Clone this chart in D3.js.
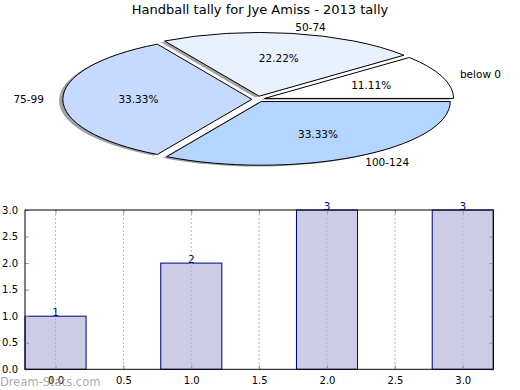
<!DOCTYPE html>
<html>
<head>
<meta charset="utf-8">
<script src="https://cdn.jsdelivr.net/npm/d3@7"></script>
<style>
  html, body { margin: 0; padding: 0; background: #fff; }
  svg { display: block; font-family: "DejaVu Sans", sans-serif; }
</style>
</head>
<body>
<svg id="chart" width="520" height="390"></svg>
<script>
// ---- data ----
const chartTitle = "Handball tally for Jye Amiss - 2013 tally";
const pieLabels = ["below 0", "50-74", "75-99", "100-124"];
const pieValues = [1, 2, 3, 3];
const pieExplode = [0.04, 0.05, 0.03, 0.04];
const pieColors = ["#ffffff", "#e9f1ff", "#c6d9fe", "#b4d5ff"];

const barCategories = [0, 1, 2, 3];
const barValues = [1, 2, 3, 3];
const xTickValues = [0, 0.5, 1, 1.5, 2, 2.5, 3];
const yTickValues = [0, 0.5, 1, 1.5, 2, 2.5, 3];
const watermark = "Dream-Stats.com";

// ---- setup ----
const svg = d3.select("#chart");
const fmt1 = d3.format(".1f");

svg.append("text")
  .attr("x", 260).attr("y", 14)
  .attr("text-anchor", "middle")
  .attr("font-size", 13)
  .text(chartTitle);

// ---- pie (ellipse because axes are stretched) ----
const pcx = 257.5, pcy = 99.3, prx = 189, pry = 63.7;
const px = d3.scaleLinear().domain([-1, 1]).range([pcx - prx, pcx + prx]);
const py = d3.scaleLinear().domain([-1, 1]).range([pcy + pry, pcy - pry]);

const arcs = d3.pie().sort(null).startAngle(0).endAngle(2 * Math.PI)(pieValues);
const total = d3.sum(pieValues);

function wedgePath(ox, oy, t1, t2) {
  const x0 = px(ox), y0 = py(oy);
  const x1 = px(ox + Math.cos(t1)), y1 = py(oy + Math.sin(t1));
  const x2 = px(ox + Math.cos(t2)), y2 = py(oy + Math.sin(t2));
  const large = (t2 - t1) > Math.PI ? 1 : 0;
  return `M${x0},${y0}L${x1},${y1}A${prx},${pry} 0 ${large} 0 ${x2},${y2}Z`;
}

const wedges = arcs.map((a, i) => {
  const tm = (a.startAngle + a.endAngle) / 2;
  const ox = pieExplode[i] * Math.cos(tm);
  const oy = pieExplode[i] * Math.sin(tm);
  return { i, t1: a.startAngle, t2: a.endAngle, tm, ox, oy };
});

const gPie = svg.append("g");
// shadows first
gPie.selectAll("path.shadow").data(wedges).enter().append("path")
  .attr("class", "shadow")
  .attr("d", d => wedgePath(d.ox - 0.02, d.oy - 0.02, d.t1, d.t2))
  .attr("fill", d => {
    const c = d3.rgb(pieColors[d.i]);
    return d3.rgb(c.r * 0.3, c.g * 0.3, c.b * 0.3);
  })
  .attr("fill-opacity", 0.5)
  .attr("stroke", "none");

gPie.selectAll("path.wedge").data(wedges).enter().append("path")
  .attr("class", "wedge")
  .attr("d", d => wedgePath(d.ox, d.oy, d.t1, d.t2))
  .attr("fill", d => pieColors[d.i])
  .attr("stroke", "#000")
  .attr("stroke-width", 1)
  .attr("stroke-linejoin", "round");

// outer labels
gPie.selectAll("text.lbl").data(wedges).enter().append("text")
  .attr("class", "lbl")
  .attr("x", d => px(d.ox + 1.1 * Math.cos(d.tm)))
  .attr("y", d => py(d.oy + 1.1 * Math.sin(d.tm)))
  .attr("dy", "0.35em")
  .attr("text-anchor", d => Math.cos(d.tm) > 0 ? "start" : "end")
  .attr("font-size", 10.5)
  .text(d => pieLabels[d.i]);

// percentage labels
gPie.selectAll("text.pct").data(wedges).enter().append("text")
  .attr("class", "pct")
  .attr("x", d => px(d.ox + 0.6 * Math.cos(d.tm)))
  .attr("y", d => py(d.oy + 0.6 * Math.sin(d.tm)))
  .attr("dy", "0.35em")
  .attr("text-anchor", "middle")
  .attr("font-size", 10.5)
  .text(d => d3.format(".2f")(pieValues[d.i] / total * 100) + "%");

// ---- bar chart ----
const axLeft = 25, axRight = 493.3, axTop = 210, axBottom = 369.3;
const barWidth = 0.45;
const x = d3.scaleLinear().domain([-0.225, 3.225]).range([axLeft, axRight]);
const y = d3.scaleLinear().domain([0, 3]).range([axBottom, axTop]);

const gBar = svg.append("g");
gBar.selectAll("rect.bar").data(barCategories).enter().append("rect")
  .attr("class", "bar")
  .attr("x", (d) => x(d - barWidth / 2))
  .attr("y", (d, i) => y(barValues[i]))
  .attr("width", x(barWidth) - x(0))
  .attr("height", (d, i) => y(0) - y(barValues[i]))
  .attr("fill", "#ccccE6")
  .attr("stroke", "#000080")
  .attr("stroke-width", 1);

// grid (drawn above bars)
gBar.selectAll("line.grid").data(xTickValues).enter().append("line")
  .attr("class", "grid")
  .attr("x1", d => x(d)).attr("x2", d => x(d))
  .attr("y1", axTop).attr("y2", axBottom)
  .attr("stroke", "#b8b8b8")
  .attr("stroke-width", 1)
  .attr("stroke-dasharray", "2,2");

// value labels
gBar.selectAll("text.val").data(barCategories).enter().append("text")
  .attr("class", "val")
  .attr("x", d => x(d))
  .attr("y", (d, i) => y(barValues[i]))
  .attr("text-anchor", "middle")
  .attr("font-size", 10.5)
  .attr("fill", "#000080")
  .text((d, i) => barValues[i]);

// axes
const xAxis = d3.axisBottom(x).tickValues(xTickValues).tickFormat(fmt1)
  .tickSizeInner(-4).tickSizeOuter(0).tickPadding(8);
const gx = gBar.append("g").attr("transform", `translate(0,${axBottom})`).call(xAxis);
gx.select(".domain").remove();
gx.selectAll(".tick line").attr("stroke", "#999");
gx.selectAll(".tick text").attr("font-size", 10).attr("fill", "#000")
  .attr("font-family", "DejaVu Sans");

const xAxisTop = d3.axisTop(x).tickValues(xTickValues).tickFormat("")
  .tickSizeInner(-4).tickSizeOuter(0);
const gxt = gBar.append("g").attr("transform", `translate(0,${axTop})`).call(xAxisTop);
gxt.select(".domain").remove();
gxt.selectAll(".tick line").attr("stroke", "#999");

const yAxis = d3.axisLeft(y).tickValues(yTickValues).tickFormat(fmt1)
  .tickSizeInner(-4).tickSizeOuter(0).tickPadding(7);
const gy = gBar.append("g").attr("transform", `translate(${axLeft},0)`).call(yAxis);
gy.select(".domain").remove();
gy.selectAll(".tick line").attr("stroke", "#999");
gy.selectAll(".tick text").attr("font-size", 10).attr("fill", "#000")
  .attr("font-family", "DejaVu Sans");

const yAxisR = d3.axisRight(y).tickValues(yTickValues).tickFormat("")
  .tickSizeInner(-4).tickSizeOuter(0);
const gyr = gBar.append("g").attr("transform", `translate(${axRight},0)`).call(yAxisR);
gyr.select(".domain").remove();
gyr.selectAll(".tick line").attr("stroke", "#999");

// frame
gBar.append("rect")
  .attr("x", axLeft).attr("y", axTop)
  .attr("width", axRight - axLeft).attr("height", axBottom - axTop)
  .attr("fill", "none").attr("stroke", "#000").attr("stroke-width", 1);

// watermark
svg.append("text")
  .attr("x", 0).attr("y", 386)
  .attr("font-size", 11.5)
  .attr("fill", "#999")
  .attr("fill-opacity", 0.85)
  .text(watermark);
</script>
</body>
</html>
